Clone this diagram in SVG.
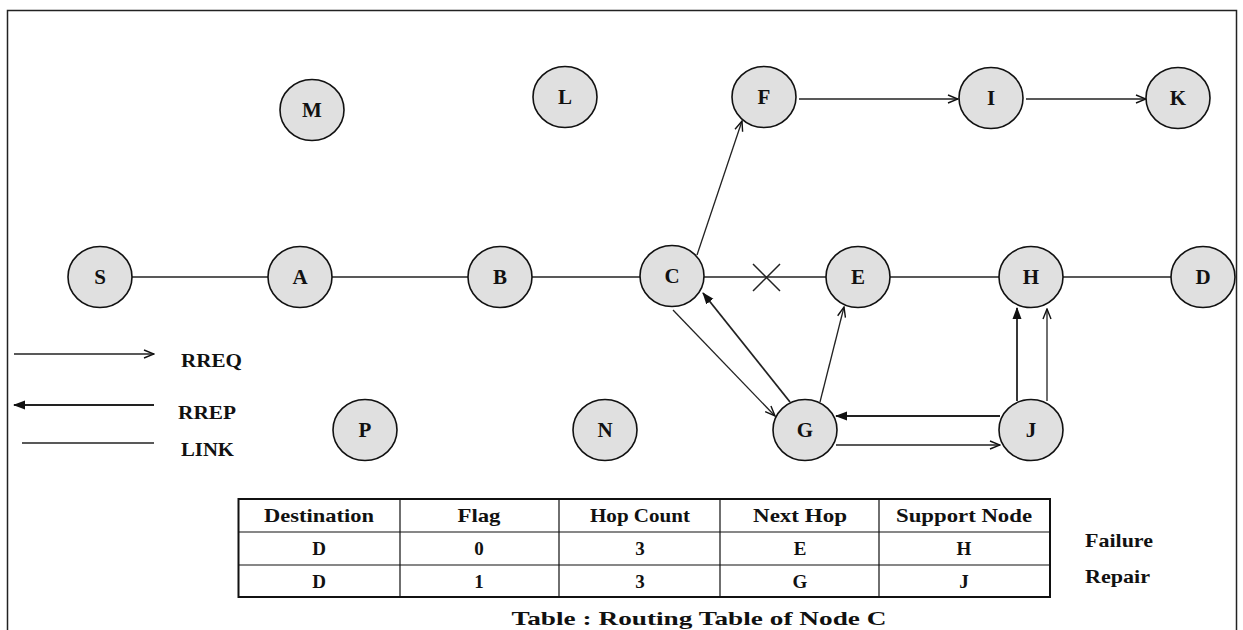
<svg xmlns="http://www.w3.org/2000/svg" width="1243" height="630" viewBox="0 0 1243 630">
<defs>
<marker id="open" viewBox="0 0 12 10" refX="11" refY="5" markerWidth="12" markerHeight="10" markerUnits="userSpaceOnUse" orient="auto">
<path d="M1,1 L11,5 L1,9" fill="none" stroke="#111" stroke-width="1.4"/>
</marker>
<marker id="filled" viewBox="0 0 12 10" refX="11" refY="5" markerWidth="12" markerHeight="10" markerUnits="userSpaceOnUse" orient="auto">
<path d="M0,0.5 L12,5 L0,9.5 Z" fill="#111"/>
</marker>
</defs>
<style>
.node ellipse{fill:#e0e0e0;stroke:#111;stroke-width:1.6}
.node text,.lbl{font-family:"Liberation Serif","Times New Roman",serif;font-weight:bold;fill:#111}
.node text{font-size:21px;text-anchor:middle}
.link{stroke:#222;stroke-width:1.5;fill:none}
.rreq{stroke:#222;stroke-width:1.3;fill:none;marker-end:url(#open)}
.rrep{stroke:#222;stroke-width:1.8;fill:none;marker-end:url(#filled)}
.lbl{font-size:19px}
.tbl{text-anchor:middle}
.grid{stroke:#111;fill:none}
</style>
<rect x="7.5" y="10.5" width="1229" height="640" fill="#fff" stroke="#222" stroke-width="1.5"/>

<g id="connectors">
<line class="link" x1="132" y1="277" x2="268" y2="277"/>
<line class="link" x1="332" y1="277" x2="468" y2="277"/>
<line class="link" x1="532" y1="277" x2="640" y2="277"/>
<line class="link" x1="704" y1="277" x2="826" y2="277"/>
<path class="link" d="M753,264 L780,291 M753,291 L780,264" stroke-width="1.3"/>
<line class="link" x1="890" y1="277" x2="999" y2="277"/>
<line class="link" x1="1063" y1="277" x2="1171" y2="277"/>
<line class="rreq" x1="697" y1="255" x2="742" y2="121"/>
<line class="rreq" x1="799" y1="99" x2="958" y2="99"/>
<line class="rreq" x1="1026" y1="99" x2="1146" y2="99"/>
<line class="rreq" x1="673" y1="310" x2="775" y2="416"/>
<line class="rreq" x1="820" y1="402" x2="844" y2="307"/>
<line class="rreq" x1="836" y1="445" x2="1000" y2="445"/>
<line class="rreq" x1="1047" y1="401" x2="1047" y2="309"/>
<line class="rrep" x1="790" y1="402" x2="703" y2="293"/>
<line class="rrep" x1="1000" y1="416" x2="836" y2="416"/>
<line class="rrep" x1="1017" y1="401" x2="1017" y2="308"/>
</g>

<g id="node-S" class="node"><ellipse cx="100" cy="277" rx="32" ry="30.5"/><text x="100" y="284">S</text></g>
<g id="node-A" class="node"><ellipse cx="300" cy="277" rx="32" ry="30.5"/><text x="300" y="284">A</text></g>
<g id="node-B" class="node"><ellipse cx="500" cy="277" rx="32" ry="30.5"/><text x="500" y="284">B</text></g>
<g id="node-C" class="node"><ellipse cx="672" cy="276" rx="32" ry="30.5"/><text x="672" y="283">C</text></g>
<g id="node-E" class="node"><ellipse cx="858" cy="277" rx="32" ry="30.5"/><text x="858" y="284">E</text></g>
<g id="node-H" class="node"><ellipse cx="1031" cy="277" rx="32" ry="30.5"/><text x="1031" y="284">H</text></g>
<g id="node-D" class="node"><ellipse cx="1203" cy="277" rx="32" ry="30.5"/><text x="1203" y="284">D</text></g>
<g id="node-M" class="node"><ellipse cx="312" cy="110" rx="32" ry="30.5"/><text x="312" y="117">M</text></g>
<g id="node-L" class="node"><ellipse cx="565" cy="97" rx="32" ry="30.5"/><text x="565" y="104">L</text></g>
<g id="node-F" class="node"><ellipse cx="764" cy="97" rx="32" ry="30.5"/><text x="764" y="104">F</text></g>
<g id="node-I" class="node"><ellipse cx="991" cy="98" rx="32" ry="30.5"/><text x="991" y="105">I</text></g>
<g id="node-K" class="node"><ellipse cx="1178" cy="98" rx="32" ry="30.5"/><text x="1178" y="105">K</text></g>
<g id="node-P" class="node"><ellipse cx="365" cy="430" rx="32" ry="30.5"/><text x="365" y="437">P</text></g>
<g id="node-N" class="node"><ellipse cx="605" cy="430" rx="32" ry="30.5"/><text x="605" y="437">N</text></g>
<g id="node-G" class="node"><ellipse cx="805" cy="430" rx="32" ry="30.5"/><text x="805" y="437">G</text></g>
<g id="node-J" class="node"><ellipse cx="1031" cy="430" rx="32" ry="30.5"/><text x="1031" y="437">J</text></g>

<g id="legend">
<line class="rreq" x1="14" y1="354" x2="154" y2="354"/>
<text class="lbl" x="181" y="367" textLength="61" lengthAdjust="spacingAndGlyphs">RREQ</text>
<line class="rrep" x1="154" y1="405" x2="14" y2="405"/>
<text class="lbl" x="178" y="419" textLength="58" lengthAdjust="spacingAndGlyphs">RREP</text>
<line class="link" x1="22" y1="443" x2="154" y2="443"/>
<text class="lbl" x="181" y="456" textLength="53" lengthAdjust="spacingAndGlyphs">LINK</text>
</g>

<g id="table">
<rect class="grid" x="238.5" y="499" width="811.5" height="98" stroke-width="2"/>
<path class="grid" d="M238,532 H1050 M238,565 H1050 M400,499 V597 M559,499 V597 M720,499 V597 M879,499 V597" stroke-width="1.2"/>
<g class="lbl tbl">
<text x="319" y="522" textLength="110" lengthAdjust="spacingAndGlyphs">Destination</text>
<text x="479" y="522" textLength="43" lengthAdjust="spacingAndGlyphs">Flag</text>
<text x="640" y="522" textLength="100" lengthAdjust="spacingAndGlyphs">Hop Count</text>
<text x="800" y="522" textLength="94" lengthAdjust="spacingAndGlyphs">Next Hop</text>
<text x="964" y="522" textLength="136" lengthAdjust="spacingAndGlyphs">Support Node</text>
<text x="319" y="555">D</text><text x="479" y="555">0</text><text x="640" y="555">3</text><text x="800" y="555">E</text><text x="964" y="555">H</text>
<text x="319" y="588">D</text><text x="479" y="588">1</text><text x="640" y="588">3</text><text x="800" y="588">G</text><text x="964" y="588">J</text>
</g>
<text class="lbl tbl" x="699" y="625" textLength="375" lengthAdjust="spacingAndGlyphs">Table : Routing Table of Node C</text>
<text class="lbl" x="1085" y="547" textLength="68" lengthAdjust="spacingAndGlyphs">Failure</text>
<text class="lbl" x="1085" y="583" textLength="65" lengthAdjust="spacingAndGlyphs">Repair</text>
</g>
</svg>
